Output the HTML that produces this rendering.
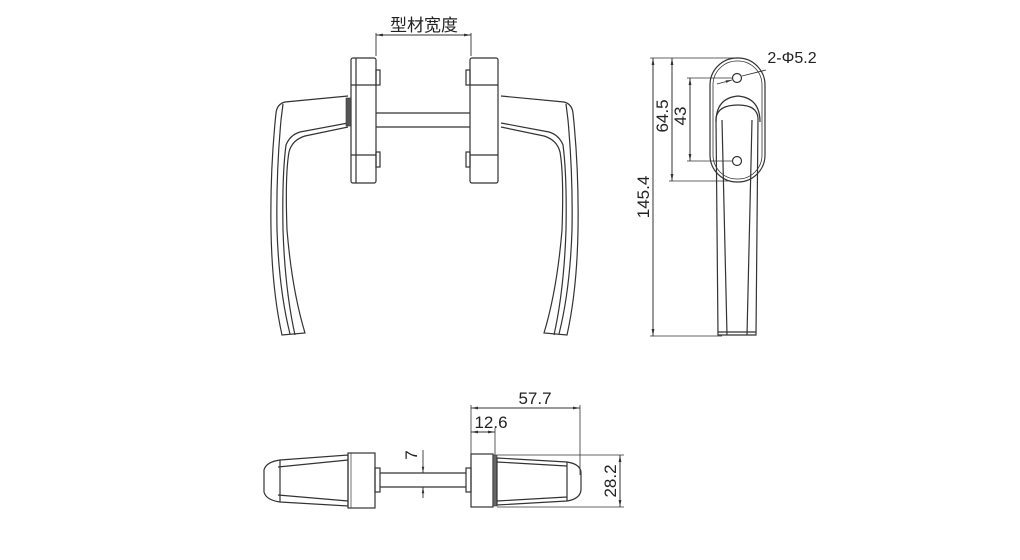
<!DOCTYPE html>
<html><head><meta charset="utf-8"><style>
html,body{margin:0;padding:0;background:#fff;}
svg{display:block;}
text{font-family:"Liberation Sans","Noto Sans CJK SC",sans-serif;fill:#222;}
</style></head><body>
<svg width="1020" height="560" viewBox="0 0 1020 560" xmlns="http://www.w3.org/2000/svg">
<defs>
<marker id="a" viewBox="0 0 10 10" refX="10" refY="5" markerWidth="7" markerHeight="7" orient="auto-start-reverse"><path d="M0,3 L10,5 L0,7 z" fill="#333"/></marker>
</defs>
<g fill="none" stroke="#333" stroke-width="1.2">
<!-- ===== FRONT VIEW ===== -->
<line x1="376" y1="35" x2="471" y2="35" stroke-width="1" marker-start="url(#a)" marker-end="url(#a)"/>
<line x1="376" y1="33" x2="376" y2="56" stroke-width="0.9"/>
<line x1="471" y1="33" x2="471" y2="56" stroke-width="0.9"/>
<rect x="351" y="58" width="25" height="125" rx="2"/>
<line x1="356" y1="58" x2="356" y2="183"/>
<line x1="351" y1="85" x2="376" y2="85"/>
<line x1="351" y1="155" x2="376" y2="155"/>
<rect x="376" y="70" width="4" height="15"/>
<rect x="376" y="152" width="4" height="15"/>
<rect x="470" y="58" width="28" height="125" rx="2"/>
<line x1="470" y1="85" x2="498" y2="85"/>
<line x1="470" y1="155" x2="498" y2="155"/>
<rect x="466" y="70" width="4" height="15"/>
<rect x="466" y="152" width="4" height="15"/>
<line x1="376" y1="113" x2="470" y2="113"/>
<line x1="376" y1="127" x2="470" y2="127"/>
<g>
<path d="M348,96 L285,102 Q277,104 276,113 Q270,170 271,230 Q272,290 282,335 L305,333 Q292,290 287,230 Q285,175 289,152 Q292,140 305,136 L348,127"/>
<path d="M283,104 Q282,112 281,120 Q276,175 277,230 Q279,290 290,334"/>
<path d="M295,335 Q285,290 283,230 Q282,175 286,145 Q290,135 300,132 L348,123"/>
<rect x="346" y="98" width="5" height="28" fill="#555" stroke-width="0.6"/>
</g>
<g transform="translate(849,0) scale(-1,1)">
<path d="M348,96 L285,102 Q277,104 276,113 Q270,170 271,230 Q272,290 282,335 L305,333 Q292,290 287,230 Q285,175 289,152 Q292,140 305,136 L348,127"/>
<path d="M283,104 Q282,112 281,120 Q276,175 277,230 Q279,290 290,334"/>
<path d="M295,335 Q285,290 283,230 Q282,175 286,145 Q290,135 300,132 L348,123"/>
</g>

<!-- ===== SIDE VIEW ===== -->
<rect x="710" y="58" width="55" height="124" rx="27"/>
<rect x="713" y="61" width="49" height="118" rx="24" stroke-width="0.8"/>
<circle cx="737" cy="78" r="4.5"/>
<circle cx="737" cy="161" r="4.5"/>
<path d="M716,122 Q716,98 738,96 Q760,98 760,122"/>
<path d="M718,335 L716,118 Q718,105 738,105 Q757,105 758,118 L756,335 Z"/>
<path d="M722,120 L727,335 M752,120 L747,335"/>
<line x1="718" y1="332" x2="756" y2="332"/>
<line x1="653" y1="58" x2="653" y2="336" stroke-width="1" marker-start="url(#a)" marker-end="url(#a)"/>
<line x1="650" y1="58" x2="740" y2="58" stroke-width="0.8"/>
<line x1="650" y1="336" x2="722" y2="336" stroke-width="0.8"/>
<line x1="672" y1="58" x2="672" y2="181" stroke-width="1" marker-start="url(#a)" marker-end="url(#a)"/>
<line x1="669" y1="181" x2="728" y2="181" stroke-width="0.8"/>
<line x1="690" y1="78" x2="690" y2="161" stroke-width="1" marker-start="url(#a)" marker-end="url(#a)"/>
<line x1="687" y1="78" x2="732" y2="78" stroke-width="0.8"/>
<line x1="687" y1="161" x2="732" y2="161" stroke-width="0.8"/>
<line x1="717" y1="84" x2="732" y2="80" stroke-width="0.9" marker-end="url(#a)"/>
<line x1="742" y1="76" x2="766" y2="70" stroke-width="0.9"/>

<!-- ===== BOTTOM VIEW ===== -->
<path d="M280,460 Q266,462 264,470 L264,492 Q266,500 280,502 L348,506 L348,455 Z"/>
<path d="M280,460 L280,502 M278,467 L348,460 M278,495 L348,501"/>
<rect x="348" y="453" width="27" height="55"/>
<line x1="351" y1="453" x2="351" y2="508" stroke-width="0.7"/>
<rect x="375" y="468" width="5" height="24"/>
<line x1="380" y1="473" x2="466" y2="473"/>
<line x1="380" y1="487" x2="466" y2="487"/>
<rect x="466" y="468" width="5" height="24"/>
<rect x="471" y="454" width="22" height="53"/>
<rect x="493" y="455" width="4" height="51" fill="#666" stroke-width="0.6"/>
<path d="M497,458 L567,462 Q580,464 581,472 L581,490 Q580,499 567,501 L497,505 Z"/>
<path d="M567,462 L567,501 M497,462 L567,466 M497,501 L567,497"/>
<line x1="471" y1="408" x2="580" y2="408" stroke-width="1" marker-start="url(#a)" marker-end="url(#a)"/>
<line x1="471" y1="405" x2="471" y2="454" stroke-width="0.8"/>
<line x1="580" y1="405" x2="580" y2="475" stroke-width="0.8"/>
<line x1="471" y1="432" x2="495" y2="432" stroke-width="1" marker-start="url(#a)" marker-end="url(#a)"/>
<line x1="495" y1="428" x2="495" y2="455" stroke-width="0.8"/>
<line x1="423" y1="450" x2="423" y2="473" stroke-width="0.9" marker-end="url(#a)"/>
<line x1="423" y1="498" x2="423" y2="487" stroke-width="0.9" marker-end="url(#a)"/>
<line x1="620" y1="455" x2="620" y2="507" stroke-width="1" marker-start="url(#a)" marker-end="url(#a)"/>
<line x1="497" y1="455" x2="624" y2="455" stroke-width="0.8"/>
<line x1="497" y1="507" x2="624" y2="507" stroke-width="0.8"/>
</g>
<text x="424" y="31" font-size="17" text-anchor="middle">型材宽度</text>
<text x="792" y="63" font-size="16" text-anchor="middle">2-Φ5.2</text>
<text transform="translate(649,197) rotate(-90)" font-size="17" text-anchor="middle">145.4</text>
<text transform="translate(668,116) rotate(-90)" font-size="17" text-anchor="middle">64.5</text>
<text transform="translate(686,116) rotate(-90)" font-size="17" text-anchor="middle">43</text>
<text x="535" y="404" font-size="17" text-anchor="middle">57.7</text>
<text x="491" y="428" font-size="17" text-anchor="middle">12.6</text>
<text transform="translate(417,455) rotate(-90)" font-size="17" text-anchor="middle">7</text>
<text transform="translate(616,481) rotate(-90)" font-size="17" text-anchor="middle">28.2</text>
</svg>
</body></html>
